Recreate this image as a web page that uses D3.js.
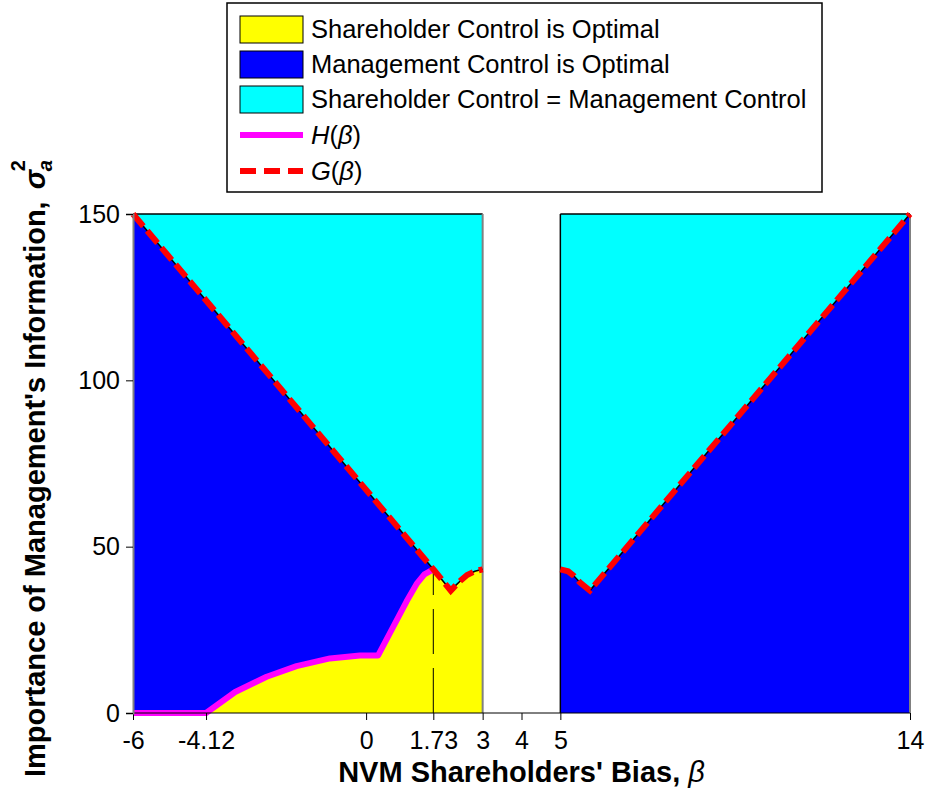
<!DOCTYPE html>
<html>
<head>
<meta charset="utf-8">
<script src="https://cdnjs.cloudflare.com/ajax/libs/d3/7.8.5/d3.min.js"></script>
<style>
  body { margin: 0; background: #fff; }
  text { font-family: "Liberation Sans", Arial, sans-serif; }
</style>
</head>
<body>
<div id="chart-div"></div>
<script>
// x ticks (bias beta) and y ticks (sigma_a^2)
const xTicks = [-6, -4.12, 0, 1.73, 3, 4, 5, 14];
const xTickLabels = ["-6", "-4.12", "0", "1.73", "3", "4", "5", "14"];
const yTicks = [0, 50, 100, 150];

// H(beta) boundary, left panel only
const hBeta = [-6, -4.12, -3.37, -2.56, -1.79, -0.93, -0.16, 0.31, 1.04, 1.3, 1.5, 1.73];
const hVal  = [0, 0, 6.3, 10.9, 14.1, 16.4, 17.3, 17.3, 33.5, 38.8, 41.7, 43.2];

// G(beta) boundary, left panel
const gLeftBeta = [-6, 1.73, 2.18, 2.3, 2.45, 2.6, 2.8, 3];
const gLeftVal  = [150, 43.2, 36.8, 38.3, 40, 41.5, 42.6, 43.2];

// G(beta) boundary, right panel
const gRightBeta = [5, 5.2, 5.35, 5.5, 5.76, 14];
const gRightVal  = [43.2, 42.6, 41.2, 39.3, 36.8, 150];

// panels
const panels = [[-6, 3], [5, 14]];
const yMax = 150;
const cutBeta = 1.73;

const legendItems = ["Shareholder Control is Optimal", "Management Control is Optimal",
                     "Shareholder Control = Management Control"];
const legendColors = ["#ffff00", "#0000ff", "#00ffff"];

let svg = d3.select("#chart-div").append("svg")
    .attr("width", 927)
    .attr("height", 790);

let x = d3.scaleLinear().domain([-6, 14]).range([133, 910]);
let y = d3.scaleLinear().domain([0, yMax]).range([713, 214]);

let hPts = hBeta.map(function(b, i){ return [b, hVal[i]]; });
let gLeft = gLeftBeta.map(function(b, i){ return [b, gLeftVal[i]]; });
let gRight = gRightBeta.map(function(b, i){ return [b, gRightVal[i]]; });

let line = d3.line().x(function(d){ return x(d[0]); }).y(function(d){ return y(d[1]); });

// background blue for both panels
panels.forEach(function(p){
    svg.append("rect")
        .attr("x", x(p[0])).attr("y", y(yMax))
        .attr("width", x(p[1]) - x(p[0]))
        .attr("height", y(0) - y(yMax))
        .style("fill", "#0000ff");
});

// cyan region above G
let cyanLeft = gLeft.concat([[3, yMax], [-6, yMax]]);
let cyanRight = gRight.concat([[5, yMax]]);
[cyanLeft, cyanRight].forEach(function(poly){
    svg.append("path")
        .attr("d", line(poly) + "Z")
        .style("fill", "#00ffff");
});

// yellow region: under H up to 1.73, then under G up to 3
let yellow = hPts.concat(gLeft.filter(function(d){ return d[0] > cutBeta; }))
    .concat([[3, 0], [-6, 0]]);
svg.append("path")
    .attr("d", line(yellow) + "Z")
    .style("fill", "#ffff00");

// panel edges
panels.forEach(function(p, i){
    svg.append("line")
        .attr("x1", x(p[0])).attr("x2", x(p[1]))
        .attr("y1", y(yMax)).attr("y2", y(yMax))
        .style("stroke", "#000").style("stroke-width", 1.5);
    svg.append("line")
        .attr("x1", x(p[1])).attr("x2", x(p[1]))
        .attr("y1", y(yMax)).attr("y2", y(0))
        .style("stroke", "#808080").style("stroke-width", 2);
    if(i == 1){
        svg.append("line")
            .attr("x1", x(p[0])).attr("x2", x(p[0]))
            .attr("y1", y(yMax)).attr("y2", y(0))
            .style("stroke", "#000").style("stroke-width", 1.5);
    }
});

// dashed marker at beta = 1.73
svg.append("line")
    .attr("x1", x(cutBeta)).attr("x2", x(cutBeta))
    .attr("y1", y(0)).attr("y2", y(43.2))
    .style("stroke", "#000").style("stroke-width", 1)
    .style("stroke-dasharray", "45,14");

// H line
svg.append("path")
    .attr("d", line(hPts))
    .style("fill", "none").style("stroke", "#ff00ff")
    .style("stroke-width", 6).style("stroke-linejoin", "round");

// G lines: thin black under red dashes
[gLeft, gRight].forEach(function(g){
    svg.append("path")
        .attr("d", line(g))
        .style("fill", "none").style("stroke", "#000").style("stroke-width", 1.5);
    svg.append("path")
        .attr("d", line(g))
        .style("fill", "none").style("stroke", "#ff0000")
        .style("stroke-width", 6).style("stroke-dasharray", "16,6");
});

// axes
let xAxis = d3.axisBottom(x).tickValues(xTicks)
    .tickFormat(function(d, i){ return xTickLabels[i]; })
    .tickSize(7).tickPadding(11);
let yAxis = d3.axisLeft(y).tickValues(yTicks).tickSize(7).tickPadding(6);

let gx = svg.append("g")
    .attr("transform", "translate(0," + y(0) + ")")
    .call(xAxis);
gx.select(".domain").attr("d", "M" + x(-6) + ",0H" + x(14));
gx.selectAll("text").style("font-size", "25px").style("fill", "#000")
    .style("font-family", "'Liberation Sans', Arial, sans-serif");

let gy = svg.append("g")
    .attr("transform", "translate(" + x(-6) + ",0)")
    .call(yAxis);
gy.select(".domain").style("stroke", "#808080").style("stroke-width", 2);
gy.selectAll("text").style("font-size", "25px").style("fill", "#000")
    .style("font-family", "'Liberation Sans', Arial, sans-serif");

// x title
let xt = svg.append("text")
    .attr("x", (x(-6) + x(14)) / 2).attr("y", 782)
    .style("text-anchor", "middle")
    .style("font-size", "29px").style("font-weight", "bold");
xt.append("tspan").text("NVM Shareholders' Bias, ");
xt.append("tspan").style("font-style", "italic").style("font-weight", "normal").text("β");

// y title, rotated
let yt = svg.append("g").attr("transform", "translate(45,777) rotate(-90)");
let ytMain = yt.append("text")
    .attr("x", 0).attr("y", 0)
    .style("font-size", "29px").style("font-weight", "bold")
    .text("Importance of Management's Information,");
let mainLen = ytMain.node().getComputedTextLength();
let sx = mainLen + 12;
yt.append("text").attr("x", sx).attr("y", 0)
    .style("font-size", "29px").style("font-weight", "bold").style("font-style", "italic")
    .text("σ");
yt.append("text").attr("x", sx + 18).attr("y", 7)
    .style("font-size", "20px").style("font-weight", "bold").style("font-style", "italic")
    .text("a");
yt.append("text").attr("x", sx + 18).attr("y", -20)
    .style("font-size", "20px").style("font-weight", "bold")
    .text("2");

// legend
let lg = svg.append("g");
lg.append("rect")
    .attr("x", 227).attr("y", 3).attr("width", 595).attr("height", 189)
    .style("fill", "#fff").style("stroke", "#000").style("stroke-width", 1.5);

let rowY = [29, 64, 99, 135, 171];
legendItems.forEach(function(t, i){
    lg.append("rect")
        .attr("x", 240).attr("y", rowY[i] - 13).attr("width", 63).attr("height", 27)
        .style("fill", legendColors[i]).style("stroke", "#000").style("stroke-width", 1);
    lg.append("text")
        .attr("x", 311).attr("y", rowY[i] + 9)
        .style("font-size", "25.5px")
        .text(t);
});

lg.append("line")
    .attr("x1", 240).attr("x2", 303).attr("y1", rowY[3]).attr("y2", rowY[3])
    .style("stroke", "#ff00ff").style("stroke-width", 6);
lg.append("line")
    .attr("x1", 240).attr("x2", 303).attr("y1", rowY[4]).attr("y2", rowY[4])
    .style("stroke", "#ff0000").style("stroke-width", 6).style("stroke-dasharray", "16,8");

[["H", 3], ["G", 4]].forEach(function(p){
    let t = lg.append("text")
        .attr("x", 311).attr("y", rowY[p[1]] + 9)
        .style("font-size", "25.5px");
    t.append("tspan").style("font-style", "italic").text(p[0]);
    t.append("tspan").text("(");
    t.append("tspan").style("font-style", "italic").text("β");
    t.append("tspan").text(")");
});
</script>
</body>
</html>
